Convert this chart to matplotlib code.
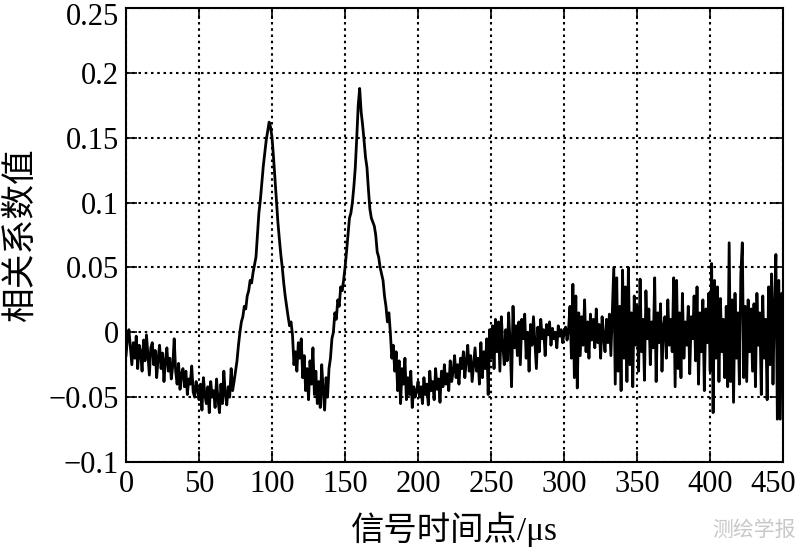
import numpy as np
import matplotlib
matplotlib.use("Agg")
import matplotlib.pyplot as plt
import matplotlib.transforms as mtransforms

# correlation coefficient values (in thousandths), one per signal time point 0..450
vals_milli = [
    -18, -5, 2, -12, -25, -8, -20, -3, -28, -10,
    -15, -30, -6, -22, -2, -18, -33, -12, -8, -25,
    -14, -35, -20, -10, -28, -16, -38, -22, -12, -30,
    -20, -36, -26, -5, -30, -40, -24, -44, -32, -28,
    -42, -30, -48, -36, -40, -26, -46, -50, -38, -44,
    -52, -40, -60, -35, -48, -55, -42, -62, -38, -50,
    -45, -58, -36, -52, -62, -40, -55, -30, -48, -56,
    -42, -50, -28, -45, -38, -30, -22, -10, 0, 8,
    12, 20, 18, 28, 32, 40, 38, 46, 52, 58,
    75, 92, 102, 115, 128, 138, 148, 155, 162, 158,
    150, 135, 118, 100, 85, 72, 60, 50, 38, 28,
    20, 12, 5, 8, -2, -25, -15, -30, -8, -20,
    -5, -35, -18, -45, -28, -52, -22, -40, -12, -48,
    -30, -55, -38, -58, -25, -45, -60, -35, -50, -28,
    -20, -5, 0, 15, 10, 25, 20, 35, 32, 40,
    50, 62, 75, 88, 92, 100, 112, 127, 150, 175,
    188, 170, 160, 148, 135, 127, 110, 95, 88, 85,
    82, 75, 62, 58, 50, 45, 40, 28, 20, 8,
    15, 0, -20, -10, -30, -15, -45, -22, -55, -28,
    -40, -20, -52, -35, -48, -30, -58, -42, -50, -45,
    -38, -50, -42, -55, -35, -48, -40, -56, -30, -45,
    -38, -52, -28, -44, -36, -54, -30, -42, -25, -40,
    -32, -45, -22, -38, -30, -18, -35, -25, -40, -20,
    -28, -15, -35, -22, -10, -30, -18, -38, -25, -12,
    -30, -20, -40, -8, -35, -15, -28, -5, -48, 2,
    -20, 5, -28, 10, -15, 8, -30, 12, -10, -25,
    2, -22, 15, -8, -42, 20, -12, 5, -18, 8,
    -25, 10, -5, 14, -20, 0, -30, 6, -10, 12,
    -8, -28, 4, -15, 10, -5, 2, -18, 6, -2,
    8, -10, 3, -5, 0, -12, 5, -3, 2, -8,
    0, 4, -6, 2, 20, -20, 37, -35, 28, -43,
    15, -18, 12, -10, 25, -15, 8, -20, 14, -6,
    10, -12, 18, -8, 6, -20, 12, -4, -15, 10,
    -8, 14, -18, 15, 50, -40, 42, -30, 20, -45,
    48, -20, 35, -38, 50, -25, 15, -42, 28, -10,
    20, -30, 41, -15, 10, -37, 32, -5, 18, -25,
    8, -12, 42, -38, 15, -8, 22, -30, 5, 12,
    -20, 25, -10, 10, -15, 42, -42, 40, -28, 15,
    -35, 30, -20, 8, -10, 20, -32, 12, -5, 28,
    -22, 35, -40, 15, -15, 25, -45, 18, -8, 30,
    -30, 53, -62, 40, -20, 35, -38, 26, -15, 10,
    -35, 20, -42, 69, -38, 25, -54, 30, -20, 15,
    -40, 45, 69, -35, 20, -38, 25, -15, 18, -30,
    22, -42, 30, -10, 15, -48, 28, -20, 10, -52,
    35, -25, 45, -40, 20, 60, -67, 40, -67, 30,
    10,
]
time_points = list(range(len(vals_milli)))
xticks = [0, 50, 100, 150, 200, 250, 300, 350, 400, 450]
yticks = [-0.1, -0.05, 0, 0.05, 0.1, 0.15, 0.2, 0.25]
ytick_labels = ["\u22120.1", "\u22120.05", "0", "0.05", "0.1", "0.15", "0.2", "0.25"]
xlabel = "信号时间点/μs"
ylabel = "相关系数值"
watermark = "测绘学报"

values = np.array(vals_milli) / 1000.0

fam = ["Liberation Serif", "Noto Sans CJK SC", "DejaVu Sans"]
plt.rcParams["font.family"] = fam

fig = plt.figure(figsize=(8.0, 5.53), dpi=100)
ax = fig.add_axes([0.1575, 0.1646, 0.8215, 0.8209])

ax.plot(time_points, values, color="black", lw=2.0)

ax.set_xlim(0, 450)
ax.set_ylim(-0.1, 0.25)
ax.set_xticks(xticks)
ax.set_xticklabels([str(t) for t in xticks])
ax.set_yticks(yticks)
ax.set_yticklabels(ytick_labels)

ax.grid(True, color="black", linestyle=(0, (1.2, 1.8)), linewidth=1.5)
ax.tick_params(direction="in", length=8, width=1.2, top=True, right=True,
               labelsize=22, pad=5)
ax.tick_params(axis="x", pad=6)
for sp in ax.spines.values():
    sp.set_linewidth(1.5)

# keep the outermost tick labels inside the figure
last = ax.get_xticklabels()[-1]
last.set_transform(last.get_transform() +
                   mtransforms.ScaledTranslation(-10 / 100, 0, fig.dpi_scale_trans))
top = ax.get_yticklabels()[-1]
top.set_transform(top.get_transform() +
                  mtransforms.ScaledTranslation(0, -6 / 100, fig.dpi_scale_trans))

ax.set_xlabel(xlabel, fontsize=24, labelpad=9, family=fam)
ax.set_ylabel(ylabel, fontsize=25, labelpad=8, family=fam)

fig.text(0.995, 0.022, watermark, ha="right", va="bottom", fontsize=15,
         color="#c8c8c8", family=["Noto Sans CJK SC", "DejaVu Sans"])

fig.savefig("out.png", dpi=100)
